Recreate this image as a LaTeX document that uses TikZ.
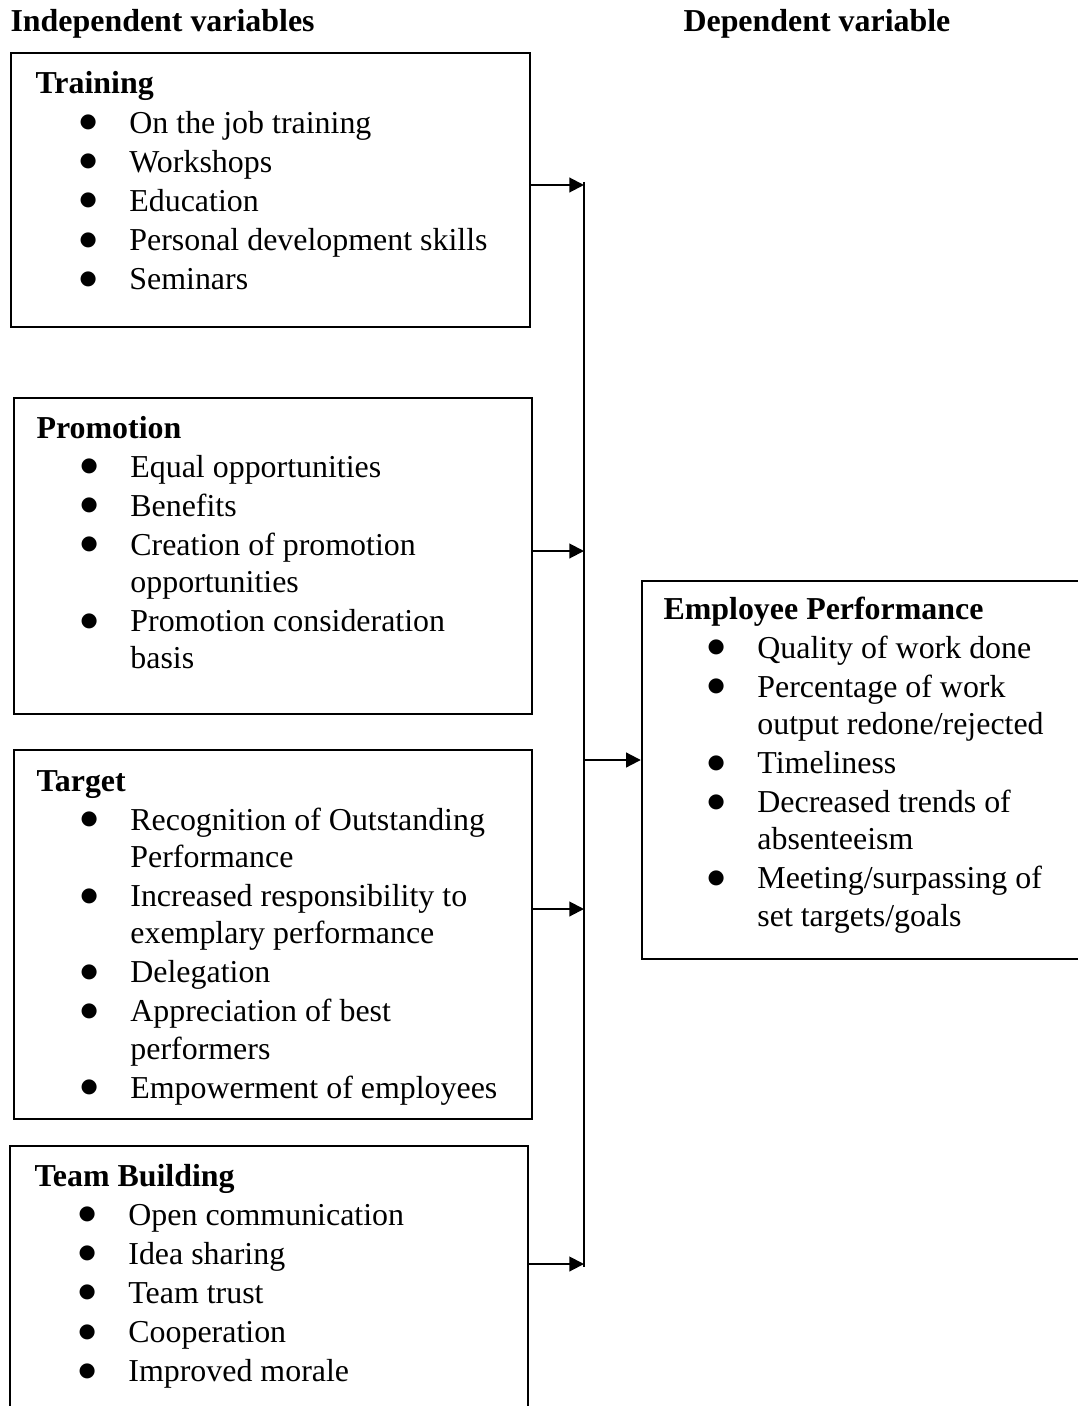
\documentclass[tikz,border=0pt]{standalone}
\usepackage{fontspec}
\setmainfont{Liberation Serif}
\newfontfamily\bulfont{DejaVu Sans}
\usepackage{tikz}
\usetikzlibrary{arrows.meta}
\usetikzlibrary{fit}
\tikzset{>={Triangle[length=5.5pt, width=5.5pt]}}
\newcommand{\bul}{\makebox[35.3pt][l]{\hspace{16.6pt}\raisebox{2pt}{\fontsize{7.4}{7.4}\bulfont ●}}}
\tikzset{
  varbox/.style={draw, line width=0.9pt, inner sep=0pt},
  varlist/.style={anchor=base west, inner sep=0pt, font=\fontsize{12}{14.7}\selectfont},
  heading/.style={anchor=base west, inner sep=0pt, font=\fontsize{12}{14.7}\selectfont\bfseries},
  link/.style={->, line width=0.75pt},
  bus/.style={line width=0.75pt}
}

\begin{document}
\begin{tikzpicture}[x=0.376pt, y=-0.376pt]
            \clip (0, 0) rectangle (1078, 1406);
            \node[heading] (indep) at (10, 32) {Independent variables};
            \node[heading] (dep) at (683, 32) {Dependent variable};

            \node[varbox, fit={(11, 53) (530, 327)}] (training) {};
            \node[varbox, fit={(14, 398) (532, 714)}] (promotion) {};
            \node[varbox, fit={(14, 750) (532, 1119)}] (target) {};
            \node[varbox, fit={(10, 1146) (528, 1420)}] (team) {};
            \node[varbox, fit={(642, 581) (1090, 959)}] (perf) {};

            \node[varlist] (trainingtxt) at (35, 94) {\begin{tabular}[t]{@{}l@{}l@{}}
                \multicolumn{2}{@{}l@{}}{\textbf{Training}}\\
                \bul & On the job training\\
                \bul & Workshops\\
                \bul & Education\\
                \bul & Personal development skills\\
                \bul & Seminars
            \end{tabular}};
            \node[varlist] (promotiontxt) at (36, 438) {\begin{tabular}[t]{@{}l@{}l@{}}
                \multicolumn{2}{@{}l@{}}{\textbf{Promotion}}\\
                \bul & Equal opportunities\\
                \bul & Benefits\\
                \bul & Creation of promotion\\[-0.7pt]
                     & opportunities\\
                \bul & Promotion consideration\\[-0.7pt]
                     & basis
            \end{tabular}};
            \node[varlist] (targettxt) at (36, 791) {\begin{tabular}[t]{@{}l@{}l@{}}
                \multicolumn{2}{@{}l@{}}{\textbf{Target}}\\
                \bul & Recognition of Outstanding\\[-0.7pt]
                     & Performance\\
                \bul & Increased responsibility to\\[-0.7pt]
                     & exemplary performance\\
                \bul & Delegation\\
                \bul & Appreciation of best\\[-0.7pt]
                     & performers\\
                \bul & Empowerment of employees
            \end{tabular}};
            \node[varlist] (teamtxt) at (34, 1186) {\begin{tabular}[t]{@{}l@{}l@{}}
                \multicolumn{2}{@{}l@{}}{\textbf{Team Building}}\\
                \bul & Open communication\\
                \bul & Idea sharing\\
                \bul & Team trust\\
                \bul & Cooperation\\
                \bul & Improved morale
            \end{tabular}};
            \node[varlist] (perftxt) at (663, 619) {\begin{tabular}[t]{@{}l@{}l@{}}
                \multicolumn{2}{@{}l@{}}{\textbf{Employee Performance}}\\
                \bul & Quality of work done\\
                \bul & Percentage of work\\[-0.7pt]
                     & output redone/rejected\\
                \bul & Timeliness\\
                \bul & Decreased trends of\\[-0.7pt]
                     & absenteeism\\
                \bul & Meeting/surpassing of\\[-0.7pt]
                     & set targets/goals
            \end{tabular}};

            \coordinate (bustop) at (584, 182);
            \coordinate (busbot) at (584, 1267);
            \coordinate (in1) at (584, 185);
            \coordinate (in2) at (584, 551);
            \coordinate (in3) at (584, 909);
            \coordinate (in4) at (584, 1264);
            \coordinate (out) at (584, 760);
            \draw[bus] (bustop) -- (busbot);
            \draw[link] (in1 -| training.east) -- (in1);
            \draw[link] (in2 -| promotion.east) -- (in2);
            \draw[link] (in3 -| target.east) -- (in3);
            \draw[link] (in4 -| team.east) -- (in4);
            \draw[link] (out) -- (out -| perf.west);
        \end{tikzpicture}
\end{document}
